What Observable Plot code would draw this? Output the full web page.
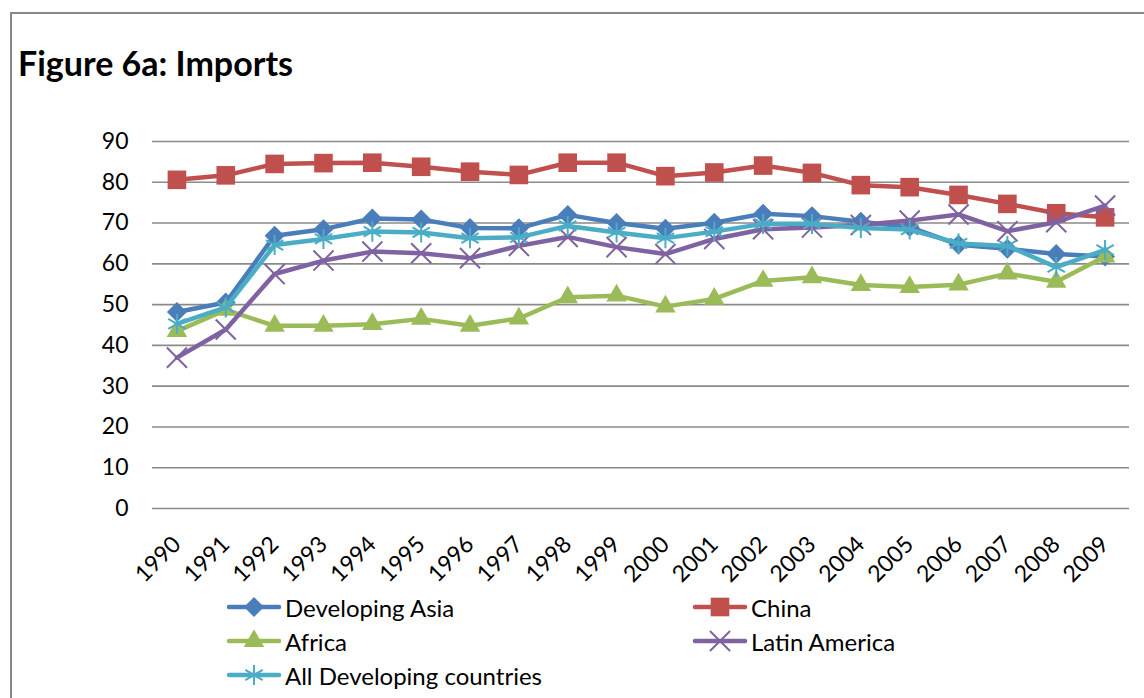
<!DOCTYPE html>
<html>
<head>
<meta charset="utf-8">
<script src="https://cdn.jsdelivr.net/npm/d3@7"></script>
<script src="https://cdn.jsdelivr.net/npm/@observablehq/plot@0.6"></script>
<style>
  html, body { margin: 0; padding: 0; width: 1144px; height: 698px; overflow: hidden; background: #fff; font-family: Lato, "Open Sans", sans-serif; }
  #frame { position: absolute; left: 10px; top: 12px; width: 1300px; height: 900px; border-left: 2px solid #878787; border-top: 2px solid #878787; box-sizing: border-box; }
  #title { position: relative; height: 110px; }
  #title h1 { position: absolute; left: 18px; top: 46px; margin: 0; font-size: 34px; line-height: 34px; font-weight: bold; color: #000; font-family: Lato, sans-serif; }
  #chart { position: relative; height: 485px; }
  #legend { position: relative; height: 103px; font-size: 24px; color: #000; }
  .item { position: absolute; display: flex; align-items: center; height: 30px; }
  .item svg { display: block; margin-right: 3px; }
</style>
</head>
<body>
<div id="frame"></div>
<div id="title"><h1>Figure 6a: Imports</h1></div>
<div id="chart"></div>
<div id="legend"></div>
<script>
const years = ["1990","1991","1992","1993","1994","1995","1996","1997","1998","1999","2000","2001","2002","2003","2004","2005","2006","2007","2008","2009"];
const yTicks = [0, 10, 20, 30, 40, 50, 60, 70, 80, 90];
const seriesNames = ["Developing Asia", "China", "Africa", "Latin America", "All Developing countries"];
const seriesColors = ["#4A7EBB", "#C0504D", "#9BBB59", "#7F62A1", "#4BACC6"];
const seriesSymbols = ["diamond2", "square", "triangle", "times", "asterisk"];

const devAsia = [48.2, 50.5, 66.9, 68.5, 71.1, 70.9, 68.8, 68.7, 72.0, 70.0, 68.6, 70.1, 72.3, 71.7, 70.3, 69.0, 64.7, 63.7, 62.4, 61.8];
const china   = [80.6, 81.7, 84.5, 84.7, 84.8, 83.8, 82.6, 81.8, 84.8, 84.8, 81.5, 82.4, 84.1, 82.3, 79.3, 78.8, 76.9, 74.7, 72.4, 71.4];
const africa  = [43.5, 48.7, 44.8, 44.8, 45.2, 46.5, 44.8, 46.6, 51.8, 52.2, 49.5, 51.4, 55.8, 56.7, 54.8, 54.3, 54.9, 57.6, 55.6, 61.8];
const latin   = [37.0, 43.9, 57.5, 60.8, 63.0, 62.6, 61.4, 64.4, 66.6, 64.1, 62.4, 66.1, 68.5, 68.9, 69.5, 70.6, 72.1, 68.0, 70.2, 74.3];
const allDev  = [45.3, 49.3, 64.6, 66.1, 67.9, 67.7, 66.3, 66.5, 69.3, 67.7, 66.3, 67.9, 69.8, 69.8, 68.8, 68.4, 65.0, 64.4, 59.2, 63.4];
const seriesValues = [devAsia, china, africa, latin, allDev];

const strokeSymbols = new Set(["times", "asterisk"]);
const symbolR = {diamond2: 9, square: 10.5, triangle: 7.6, times: 9.2, asterisk: 9.5};

const marks = [
  Plot.gridY(yTicks, {stroke: "#8a8a8a", strokeOpacity: 1, strokeWidth: 1.6})
];
seriesNames.forEach((name, i) => {
  const data = years.map((yr, j) => ({year: yr, value: seriesValues[i][j], series: name}));
  const color = seriesColors[i];
  const sym = seriesSymbols[i];
  marks.push(Plot.line(data, {x: "year", y: "value", stroke: color, strokeWidth: 4.5, strokeLinejoin: "round", strokeLinecap: "round"}));
  if (strokeSymbols.has(sym)) {
    marks.push(Plot.dot(data, {x: "year", y: "value", symbol: sym, r: symbolR[sym], stroke: color, strokeWidth: 2, fill: "none"}));
  } else {
    marks.push(Plot.dot(data, {x: "year", y: "value", symbol: sym, r: symbolR[sym], fill: color, stroke: "none"}));
  }
});
marks.push(Plot.axisY(yTicks, {tickSize: 0, tickPadding: 24, fontSize: 23, label: null, fill: "#000"}));
marks.push(Plot.axisX({tickSize: 0, tickPadding: 32, tickRotate: -45, fontSize: 23, label: null, fill: "#000"}));

const chart = Plot.plot({
  width: 1144,
  height: 485,
  marginLeft: 152,
  marginRight: 15,
  marginTop: 31,
  marginBottom: 87,
  style: {fontFamily: "Lato, sans-serif", overflow: "visible", background: "transparent"},
  x: {type: "point", domain: years, padding: 0.5, round: false},
  y: {domain: [0, 90], nice: false},
  marks
});
document.getElementById("chart").appendChild(chart);

// Legend
const legend = document.getElementById("legend");
const positions = [[226, 12], [692, 12], [226, 46], [692, 46], [226, 80]];
seriesNames.forEach((name, i) => {
  const [lx, ly] = positions[i];
  const item = document.createElement("div");
  item.className = "item";
  item.style.left = lx + "px";
  item.style.top = (ly - 15) + "px";
  const ns = "http://www.w3.org/2000/svg";
  const svg = document.createElementNS(ns, "svg");
  svg.setAttribute("width", 56);
  svg.setAttribute("height", 30);
  const line = document.createElementNS(ns, "line");
  line.setAttribute("x1", 3); line.setAttribute("x2", 53);
  line.setAttribute("y1", 15); line.setAttribute("y2", 15);
  line.setAttribute("stroke", seriesColors[i]);
  line.setAttribute("stroke-width", 4.5);
  line.setAttribute("stroke-linecap", "round");
  svg.appendChild(line);
  const symMap = {diamond2: d3.symbolDiamond2, square: d3.symbolSquare, triangle: d3.symbolTriangle, times: d3.symbolTimes, asterisk: d3.symbolAsterisk};
  const sym = seriesSymbols[i];
  const r = symbolR[sym];
  const p = document.createElementNS(ns, "path");
  p.setAttribute("d", d3.symbol(symMap[sym], Math.PI * r * r)());
  p.setAttribute("transform", "translate(28,15)");
  if (strokeSymbols.has(sym)) {
    p.setAttribute("fill", "none"); p.setAttribute("stroke", seriesColors[i]); p.setAttribute("stroke-width", 2);
  } else {
    p.setAttribute("fill", seriesColors[i]);
  }
  svg.appendChild(p);
  item.appendChild(svg);
  const t = document.createElement("span");
  t.textContent = name;
  item.appendChild(t);
  legend.appendChild(item);
});
</script>
</body>
</html>
